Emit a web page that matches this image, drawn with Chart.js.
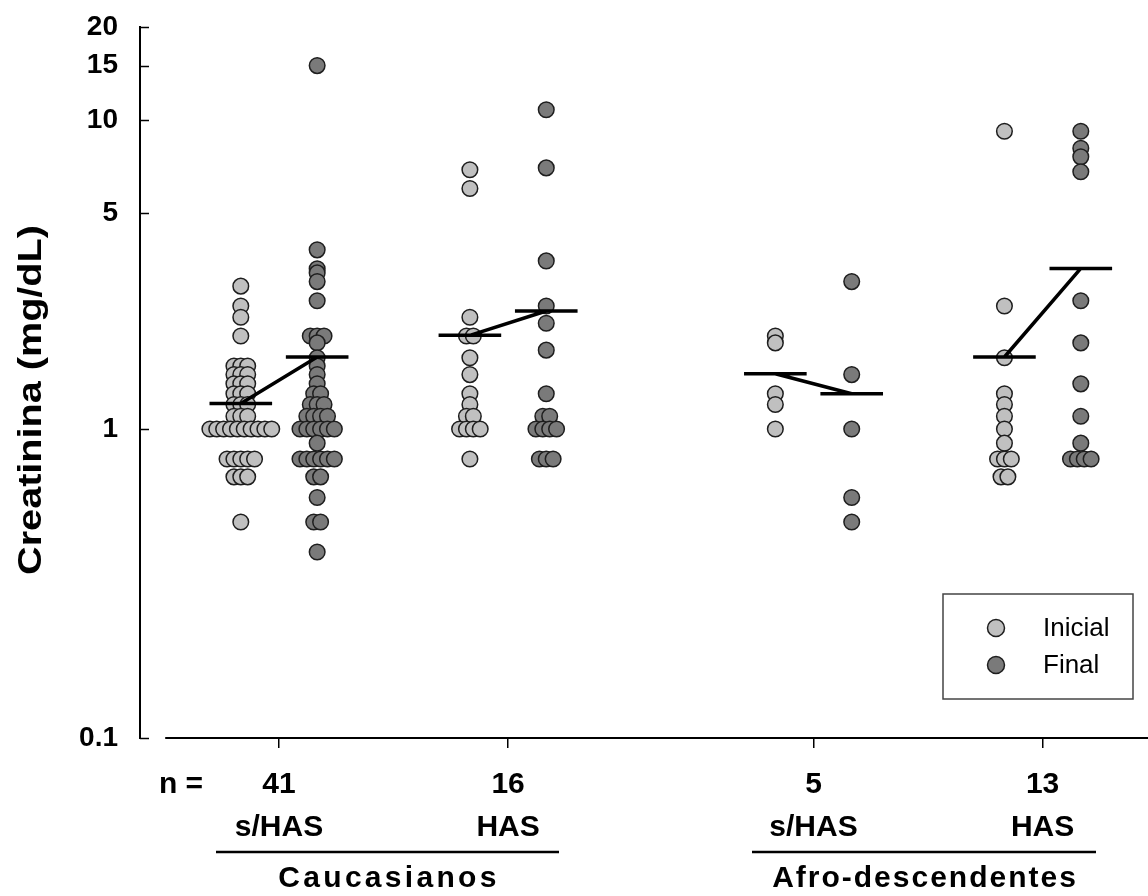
<!DOCTYPE html>
<html>
<head>
<meta charset="utf-8">
<style>
  body { margin: 0; background: #fff; }
  #wrap { width: 1148px; height: 896px; position: relative; }
</style>
</head>
<body>
<div id="wrap"><canvas id="chart"></canvas></div>

<script src="https://cdn.jsdelivr.net/npm/chart.js"></script>
<script>
// x positions of the four groups and their labels
const groupX = [0, 3, 7, 10];
const groupN = ['41', '16', '5', '13'];
const groupHAS = ['s/HAS', 'HAS', 's/HAS', 'HAS'];
const yTicks = [0.1, 1, 5, 10, 15, 20];

// creatinina (mg/dL), per group
const inicialCaucSem = [2.9, 2.5, 2.3, 2.0, 1.6, 1.6, 1.6, 1.5, 1.5, 1.5, 1.4, 1.4, 1.4, 1.3, 1.3, 1.3,
  1.2, 1.2, 1.2, 1.1, 1.1, 1.1, 1.0, 1.0, 1.0, 1.0, 1.0, 1.0, 1.0, 1.0, 1.0, 1.0,
  0.8, 0.8, 0.8, 0.8, 0.8, 0.7, 0.7, 0.7, 0.5];
const finalCaucSem = [15, 3.8, 3.3, 3.2, 3.0, 2.6, 2.0, 2.0, 2.0, 1.9, 1.7, 1.6, 1.5, 1.4, 1.3, 1.3,
  1.2, 1.2, 1.2, 1.1, 1.1, 1.1, 1.1, 1.0, 1.0, 1.0, 1.0, 1.0, 1.0, 0.9,
  0.8, 0.8, 0.8, 0.8, 0.8, 0.8, 0.7, 0.7, 0.6, 0.5, 0.5, 0.4];
const inicialCaucHAS = [6.9, 6.0, 2.3, 2.0, 2.0, 1.7, 1.5, 1.3, 1.2, 1.1, 1.1, 1.0, 1.0, 1.0, 1.0, 0.8];
const finalCaucHAS = [10.8, 7.0, 3.5, 2.5, 2.2, 1.8, 1.3, 1.1, 1.1, 1.0, 1.0, 1.0, 1.0, 0.8, 0.8, 0.8];
const inicialAfroSem = [2.0, 1.9, 1.3, 1.2, 1.0];
const finalAfroSem = [3.0, 1.5, 1.0, 0.6, 0.5];
const inicialAfroHAS = [9.2, 2.5, 1.7, 1.3, 1.2, 1.1, 1.0, 0.9, 0.8, 0.8, 0.8, 0.7, 0.7];
const finalAfroHAS = [9.2, 8.1, 7.6, 6.8, 2.6, 1.9, 1.4, 1.1, 0.9, 0.8, 0.8, 0.8, 0.8];

// group means (horizontal bars)
const meanInicial = [1.21, 2.01, 1.51, 1.71];
const meanFinal = [1.71, 2.41, 1.30, 3.31];

const inicialGroups = [inicialCaucSem, inicialCaucHAS, inicialAfroSem, inicialAfroHAS];
const finalGroups = [finalCaucSem, finalCaucHAS, finalAfroSem, finalAfroHAS];

const COL_OFF = 0.5;    // column offset from group tick
const BAR_HALF = 0.41;  // half width of the mean bar
const STEP = 0.09;      // horizontal spread of equal values

// equal values are spread side by side around the column centre
function swarm(values, center) {
  const counts = {};
  values.forEach(v => counts[v] = (counts[v] || 0) + 1);
  const seen = {};
  return values.map(v => {
    seen[v] = (seen[v] || 0) + 1;
    const dx = (seen[v] - 1 - (counts[v] - 1) / 2) * STEP;
    return { x: center + dx, y: v };
  });
}

const inicialPts = [], finalPts = [], meanPts = [];
groupX.forEach((c, i) => {
  inicialPts.push(...swarm(inicialGroups[i], c - COL_OFF));
  finalPts.push(...swarm(finalGroups[i], c + COL_OFF));
  const xi = c - COL_OFF, xf = c + COL_OFF;
  meanPts.push(
    { x: xi - BAR_HALF, y: meanInicial[i] }, { x: xi + BAR_HALF, y: meanInicial[i] }, { x: xi, y: null },
    { x: xi, y: meanInicial[i] }, { x: xf, y: meanFinal[i] }, { x: xf, y: null },
    { x: xf - BAR_HALF, y: meanFinal[i] }, { x: xf + BAR_HALF, y: meanFinal[i] }, { x: xf + 1, y: null }
  );
});

const FONT = '"Liberation Sans", Arial, sans-serif';
Chart.defaults.font.family = FONT;
Chart.defaults.color = '#000';

// text drawn a little wider than Liberation Sans, like the original
function wideText(ctx, text, x, y, sx, rot) {
  ctx.save();
  ctx.translate(x, y);
  if (rot) ctx.rotate(rot);
  ctx.scale(sx, 1);
  ctx.fillText(text, 0, 0);
  ctx.restore();
}

// axis lines, inward ticks, group captions and legend box
const decor = {
  id: 'decor',
  afterDraw(chart) {
    const { ctx, scales: { x, y } } = chart;
    const line = (x1, y1, x2, y2) => { ctx.beginPath(); ctx.moveTo(x1, y1); ctx.lineTo(x2, y2); ctx.stroke(); };
    ctx.save();
    ctx.strokeStyle = '#000';
    ctx.lineWidth = 1.5;
    yTicks.forEach(v => {
      const py = Math.round(y.getPixelForValue(v)) + 0.5;
      line(x.left, py, x.left + 9, py);
    });
    ctx.lineWidth = 2;
    line(x.getPixelForValue(-1.49), y.bottom, x.right, y.bottom);

    ctx.fillStyle = '#000';
    ctx.textAlign = 'center';
    ctx.textBaseline = 'middle';

    ctx.font = 'bold 33px ' + FONT;
    wideText(ctx, 'Creatinina (mg/dL)', 32, 400, 1.2, -Math.PI / 2);

    ctx.font = 'bold 30px ' + FONT;
    ctx.fillText('n =', 181, 785);

    ctx.lineWidth = 2.5;
    line(216, 852, 559, 852);
    line(752, 852, 1096, 852);
    ctx.letterSpacing = '3.3px';
    ctx.fillText('Caucasianos', 389, 879);
    ctx.letterSpacing = '2px';
    ctx.fillText('Afro-descendentes', 925, 879);
    ctx.letterSpacing = '0px';

    // legend
    ctx.lineWidth = 1.5;
    ctx.strokeStyle = '#444';
    ctx.fillStyle = '#fff';
    ctx.fillRect(943, 594, 190, 105);
    ctx.strokeRect(943, 594, 190, 105);
    const ds = chart.data.datasets;
    [[ds[1], 628], [ds[2], 665]].forEach(([d, ly]) => {
      ctx.beginPath();
      ctx.arc(996, ly, 8.5, 0, Math.PI * 2);
      ctx.fillStyle = d.backgroundColor;
      ctx.fill();
      ctx.strokeStyle = d.borderColor;
      ctx.lineWidth = 1.5;
      ctx.stroke();
      ctx.fillStyle = '#000';
      ctx.textAlign = 'left';
      ctx.font = '26px ' + FONT;
      ctx.fillText(d.label, 1043, ly + 1);
    });
    ctx.restore();
  }
};

new Chart(document.getElementById('chart'), {
  type: 'scatter',
  data: {
    datasets: [
      {
        type: 'line',
        label: 'Média',
        data: meanPts,
        borderColor: '#000',
        borderWidth: 3.5,
        pointRadius: 0,
        spanGaps: false,
        borderJoinStyle: 'bevel',
        order: 0
      },
      {
        label: 'Inicial',
        data: inicialPts,
        backgroundColor: '#c0c0c0',
        borderColor: '#1e1e1e',
        borderWidth: 1.5,
        pointRadius: 7.8,
        order: 2
      },
      {
        label: 'Final',
        data: finalPts,
        backgroundColor: '#7a7a7a',
        borderColor: '#1e1e1e',
        borderWidth: 1.5,
        pointRadius: 7.8,
        order: 1
      }
    ]
  },
  options: {
    responsive: true,
    maintainAspectRatio: false,
    animation: false,
    layout: { autoPadding: false, padding: { top: 27, left: 0, right: 0, bottom: 0 } },
    plugins: { legend: { display: false }, tooltip: { enabled: false } },
    scales: {
      x: {
        type: 'linear',
        min: -1.82,
        max: 11.38,
        afterFit: s => { s.height = 158; },
        afterBuildTicks: s => { s.ticks = groupX.map(v => ({ value: v })); },
        border: { display: false },
        grid: { display: true, drawOnChartArea: false, drawTicks: true, tickLength: 10, color: '#000', lineWidth: 1.5 },
        ticks: {
          padding: 15,
          maxRotation: 0,
          font: { size: 30, weight: 'bold', lineHeight: 1.4333 },
          callback: (v, i) => [groupN[i], groupHAS[i]]
        }
      },
      y: {
        type: 'logarithmic',
        min: 0.1,
        max: 20,
        afterFit: s => { s.width = 140; },
        afterBuildTicks: s => { s.ticks = yTicks.map(v => ({ value: v })); },
        border: { display: true, color: '#000', width: 2 },
        // hidden tick marks only set the gap between labels and axis
        grid: { display: false, drawTicks: true, tickLength: 22 },
        ticks: {
          padding: 0,
          font: { size: 28, weight: 'bold' },
          callback: v => String(v)
        }
      }
    }
  },
  plugins: [decor]
});
</script>
</body>
</html>
